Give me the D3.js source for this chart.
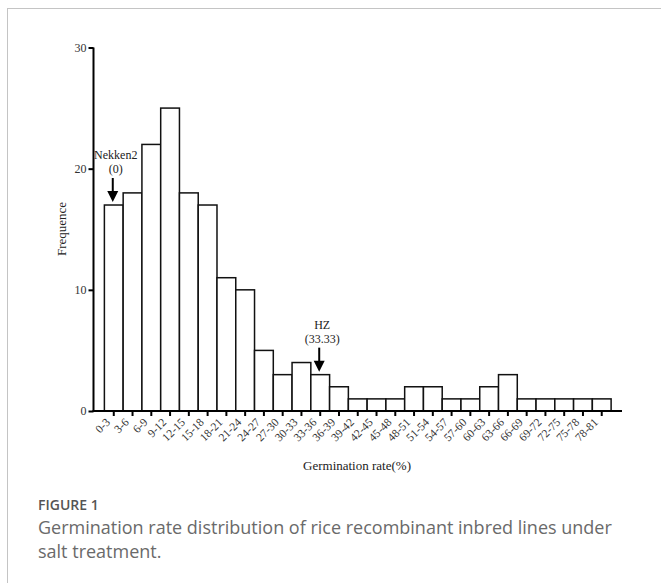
<!DOCTYPE html>
<html>
<head>
<meta charset="utf-8">
<script src="https://cdn.jsdelivr.net/npm/d3@7"></script>
<style>
  html, body { margin: 0; padding: 0; background: #fff; }
  svg { display: block; }
</style>
</head>
<body>
<script>
// Germination rate classes (%) and number of lines in each class
const categories = ["0-3","3-6","6-9","9-12","12-15","15-18","18-21","21-24","24-27","27-30",
  "30-33","33-36","36-39","39-42","42-45","45-48","48-51","51-54","54-57","57-60",
  "60-63","63-66","66-69","69-72","72-75","75-78","78-81"];
const frequencies = [17,18,22,25,18,17,11,10,5,3,4,3,2,1,1,1,2,2,1,1,2,3,1,1,1,1,1];
const yTicks = [0,10,20,30];

// Parent lines marked on the distribution
const markers = [
  { category: "0-3", name: "Nekken2", value: "(0)" },
  { category: "33-36", name: "HZ", value: "(33.33)" }
];

const W = 661, H = 583;
const svg = d3.select("body").append("svg").attr("width", W).attr("height", H);

// panel frame (left and top rules)
svg.append("line").attr("x1", 7.5).attr("x2", 7.5).attr("y1", 8).attr("y2", H)
  .attr("stroke", "#c4c4c4").attr("stroke-width", 1);
svg.append("line").attr("x1", 7.5).attr("x2", W).attr("y1", 8.5).attr("y2", 8.5)
  .attr("stroke", "#c4c4c4").attr("stroke-width", 1);

const x0 = 93.5, x1 = 622, yTop = 47.5, yBase = 411;
const x = d3.scaleBand().domain(categories).range([x0, x1]).paddingInner(0).paddingOuter(0.58);
const y = d3.scaleLinear().domain([0, 30]).range([yBase, yTop]);

const serif = "'Liberation Serif', 'Times New Roman', serif";
const g = svg.append("g");

// bars
g.selectAll("rect.bar").data(categories).join("rect")
  .attr("class", "bar")
  .attr("x", d => x(d))
  .attr("y", (d, i) => y(frequencies[i]))
  .attr("width", x.bandwidth())
  .attr("height", (d, i) => yBase - y(frequencies[i]))
  .attr("fill", "#fff")
  .attr("stroke", "#111")
  .attr("stroke-width", 1.5);

// y axis
const yAxis = g.append("g").attr("transform", `translate(${x0},0)`)
  .call(d3.axisLeft(y).tickValues(yTicks).tickSize(5).tickPadding(2).tickFormat(d3.format("d")));
yAxis.select(".domain").attr("stroke", "#000").attr("stroke-width", 2)
  .attr("d", `M0,${yTop}V${yBase}`);
yAxis.selectAll(".tick line").attr("stroke", "#000").attr("stroke-width", 2);
yAxis.selectAll(".tick text").attr("font-family", serif).attr("font-size", 12).attr("fill", "#333");

// x axis
const xAxis = g.append("g").attr("transform", `translate(0,${yBase})`)
  .call(d3.axisBottom(x).tickSize(5).tickSizeOuter(0));
xAxis.select(".domain").attr("stroke", "#000").attr("stroke-width", 2)
  .attr("d", `M${x0 - 1},0H${x1}`);
xAxis.selectAll(".tick line").attr("stroke", "#000").attr("stroke-width", 2);
xAxis.selectAll(".tick text")
  .attr("font-family", serif).attr("font-size", 11.5).attr("fill", "#333")
  .attr("text-anchor", "end")
  .attr("dy", null).attr("y", 0)
  .attr("transform", "translate(-3,12) rotate(-45)");

// axis titles
g.append("text").attr("x", 357).attr("y", 470).attr("text-anchor", "middle")
  .attr("font-family", serif).attr("font-size", 13).attr("fill", "#222")
  .text("Germination rate(%)");
g.append("text").attr("transform", `translate(66,229) rotate(-90)`).attr("text-anchor", "middle")
  .attr("font-family", serif).attr("font-size", 13).attr("fill", "#222")
  .text("Frequence");

// parent markers: label and arrow pointing at the bar top
markers.forEach(m => {
  const i = categories.indexOf(m.category);
  const cx = x(m.category) + x.bandwidth() / 2 - 1;
  const top = y(frequencies[i]) - 3;
  g.append("line").attr("x1", cx).attr("x2", cx).attr("y1", top - 24).attr("y2", top - 10)
    .attr("stroke", "#000").attr("stroke-width", 2);
  g.append("path").attr("d", `M${cx - 5.5},${top - 11}L${cx + 5.5},${top - 11}L${cx},${top}Z`)
    .attr("fill", "#000");
  g.append("text").attr("x", cx + 3).attr("y", top - 43).attr("text-anchor", "middle")
    .attr("font-family", serif).attr("font-size", 12).attr("fill", "#222").text(m.name);
  g.append("text").attr("x", cx + 3).attr("y", top - 29).attr("text-anchor", "middle")
    .attr("font-family", serif).attr("font-size", 12).attr("fill", "#222").text(m.value);
});

// caption
const sans = "'Open Sans', 'Noto Sans', sans-serif";
svg.append("text").attr("x", 38).attr("y", 510)
  .attr("font-family", sans).attr("font-size", 14).attr("font-weight", 600).attr("fill", "#555")
  .text("FIGURE 1");
svg.append("text").attr("x", 38).attr("y", 534)
  .attr("font-family", sans).attr("font-size", 18).attr("fill", "#6a6a6a")
  .text("Germination rate distribution of rice recombinant inbred lines under");
svg.append("text").attr("x", 38).attr("y", 558)
  .attr("font-family", sans).attr("font-size", 18).attr("fill", "#6a6a6a")
  .text("salt treatment.");
</script>
</body>
</html>
